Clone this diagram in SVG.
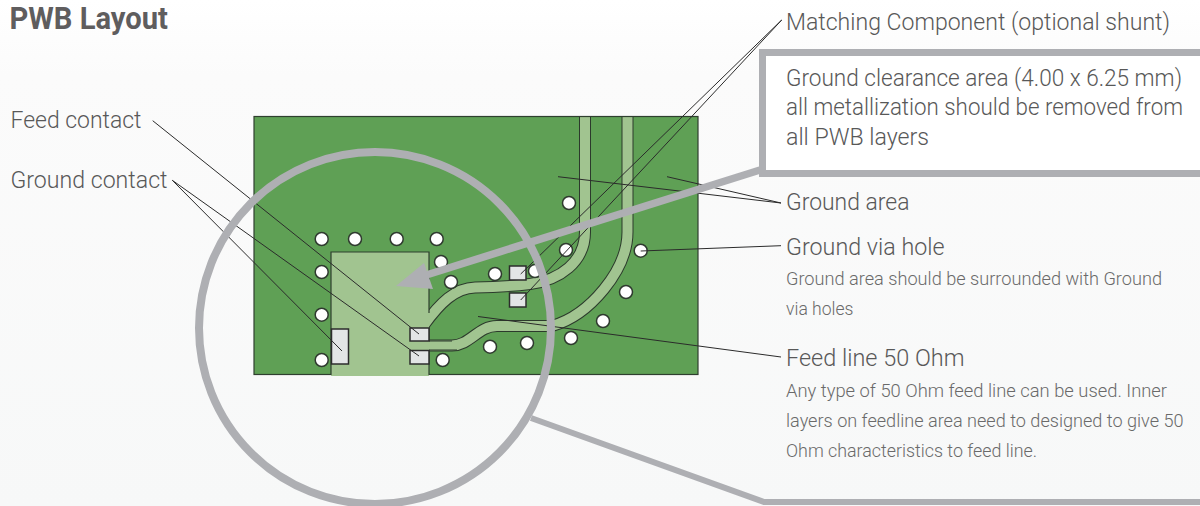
<svg xmlns="http://www.w3.org/2000/svg" width="1200" height="506" viewBox="0 0 1200 506">
<style>
text{font-family:"Roboto","Liberation Sans",sans-serif;font-weight:300;fill:#585858}
.lg{font-size:24.500px}
.box{font-size:23px}
.sm{font-size:18.500px;fill:#6a6a6a}
.title{font-size:31px;font-weight:700;fill:#5f5d5e}
.edge{fill:none;stroke:#2c3a2c;stroke-width:12}
.core{fill:none;stroke:#a1c490;stroke-width:10}
.hole{fill:#fff;stroke:#2f3a2f;stroke-width:1.5}
.pad{fill:#e3e5e6;stroke:#2c2c2c;stroke-width:1.5}
.lead{fill:none;stroke:#2b2b2b;stroke-width:1}
.gray{fill:none;stroke:#aeafb3}
</style>
<defs>
<linearGradient id="bg" x1="0" y1="0" x2="0" y2="1"><stop offset="0" stop-color="#ffffff"/><stop offset="0.15" stop-color="#fbfbfb"/><stop offset="1" stop-color="#f7f8f8"/></linearGradient>
</defs>
<rect width="1200" height="506" fill="url(#bg)"/>
<g id="board">
<rect x="254" y="116.500" width="444" height="258" fill="#5fa055"/>
<path class="edge" d="M585 116V232C585 262 560 280 530 284Q505 287 475 287.500C455 288 440 303 424 325"/>
<path class="edge" d="M627.500 116V232C627.500 270 590 315 552 326H497C478 326 470 345.500 452 345.500H424"/>
<path class="core" d="M585 116V232C585 262 560 280 530 284Q505 287 475 287.500C455 288 440 303 424 325"/>
<path class="core" d="M627.500 116V232C627.500 270 590 315 552 326H497C478 326 470 345.500 452 345.500H424"/>
<rect x="254" y="116.500" width="444" height="258" fill="none" stroke="#2f3f2f" stroke-width="1.200"/>
<rect x="331" y="252" width="98" height="124" fill="#a1c490"/>
<path d="M331 375V252H429V313M429 328V341M429 350V375" fill="none" stroke="#2f3f2f" stroke-width="1.200"/>
<path d="M429 341H452M429 350H457" fill="none" stroke="#2c3a2c" stroke-width="1.200"/>
</g>
<g id="pads">
<rect class="pad" x="410" y="328" width="19" height="13"/>
<rect class="pad" x="410" y="350.500" width="19" height="13.500"/>
<rect class="pad" x="331.500" y="329" width="17" height="35"/>
<rect class="pad" x="509.500" y="266" width="16.500" height="14"/>
<rect class="pad" x="509.500" y="293" width="16.500" height="14"/>
</g>
<g id="holes">
<circle class="hole" cx="321.700" cy="239" r="6.500"/><circle class="hole" cx="355" cy="239" r="6.500"/><circle class="hole" cx="396.700" cy="239" r="6.500"/><circle class="hole" cx="436.700" cy="239" r="6.500"/>
<circle class="hole" cx="441" cy="262" r="6.500"/><circle class="hole" cx="451" cy="282" r="6.500"/><circle class="hole" cx="495" cy="274" r="6.500"/><circle class="hole" cx="321.700" cy="272" r="6.500"/>
<circle class="hole" cx="321.700" cy="314.700" r="6.500"/><circle class="hole" cx="321.700" cy="360" r="6.500"/><circle class="hole" cx="442.700" cy="360" r="6.500"/><circle class="hole" cx="490" cy="346.700" r="6.500"/>
<circle class="hole" cx="569" cy="203" r="6.500"/><circle class="hole" cx="566" cy="250" r="6.500"/><circle class="hole" cx="535" cy="271" r="6.500"/><circle class="hole" cx="640.700" cy="250.700" r="6.500"/>
<circle class="hole" cx="626" cy="292" r="6.500"/><circle class="hole" cx="603" cy="321" r="6.500"/><circle class="hole" cx="571" cy="338" r="6.500"/><circle class="hole" cx="527" cy="343" r="6.500"/>
</g>
<g id="connectors">
<path class="lead" d="M152.700 120.700L419 334M172.300 180.300L419 356M172.300 180.300L342 351"/>
<path class="lead" d="M781.700 20L520.700 274M781.700 20L520.700 300"/>
<path class="lead" d="M781 203L558 176.700M781 203L667 176.700"/>
<path class="lead" d="M781 245.700L640.700 251"/>
<path class="lead" d="M781 357L478 316.500"/>
</g>
<g id="callout">
<circle class="gray" cx="375" cy="328" r="176" stroke-width="8"/>
<path class="gray" d="M531 418L764 502H1200" stroke-width="6"/>
<path d="M760 170L420 277" class="gray" stroke-width="7.500"/>
<path d="M396 286L424 263L433 289Z" fill="#aeafb3"/>
<rect x="762.500" y="52.500" width="437.500" height="121" fill="#fff"/>
<path d="M1200 52.500H762.500V173.500H1200" fill="none" stroke="#aeafb3" stroke-width="7"/>
</g>
<g id="labels">
<text class="title" x="9.500" y="28.800" textLength="158.500" lengthAdjust="spacingAndGlyphs">PWB Layout</text>
<text class="lg" x="10.500" y="128" textLength="131" lengthAdjust="spacingAndGlyphs">Feed contact</text>
<text class="lg" x="10.500" y="188" textLength="157" lengthAdjust="spacingAndGlyphs">Ground contact</text>
<text class="lg" x="786" y="30" textLength="384" lengthAdjust="spacingAndGlyphs">Matching Component (optional shunt)</text>
<text class="box" x="786" y="85.500" textLength="396" lengthAdjust="spacingAndGlyphs">Ground clearance area (4.00 x 6.25 mm)</text>
<text class="box" x="786" y="115" textLength="397" lengthAdjust="spacingAndGlyphs">all metallization should be removed from</text>
<text class="box" x="786" y="145" textLength="143" lengthAdjust="spacingAndGlyphs">all PWB layers</text>
<text class="lg" x="786" y="209.500" textLength="123.500" lengthAdjust="spacingAndGlyphs">Ground area</text>
<text class="lg" x="786" y="254.500" textLength="158.500" lengthAdjust="spacingAndGlyphs">Ground via hole</text>
<text class="sm" x="786" y="285" textLength="376" lengthAdjust="spacingAndGlyphs">Ground area should be surrounded with Ground</text>
<text class="sm" x="786" y="315" textLength="67.500" lengthAdjust="spacingAndGlyphs">via holes</text>
<text class="lg" x="786" y="366" textLength="178.500" lengthAdjust="spacingAndGlyphs">Feed line 50 Ohm</text>
<text class="sm" x="786" y="396.500" textLength="381" lengthAdjust="spacingAndGlyphs">Any type of 50 Ohm feed line can be used. Inner</text>
<text class="sm" x="786" y="426.500" textLength="397.500" lengthAdjust="spacingAndGlyphs">layers on feedline area need to designed to give 50</text>
<text class="sm" x="786" y="456.500" textLength="251" lengthAdjust="spacingAndGlyphs">Ohm characteristics to feed line.</text>
</g>
</svg>
